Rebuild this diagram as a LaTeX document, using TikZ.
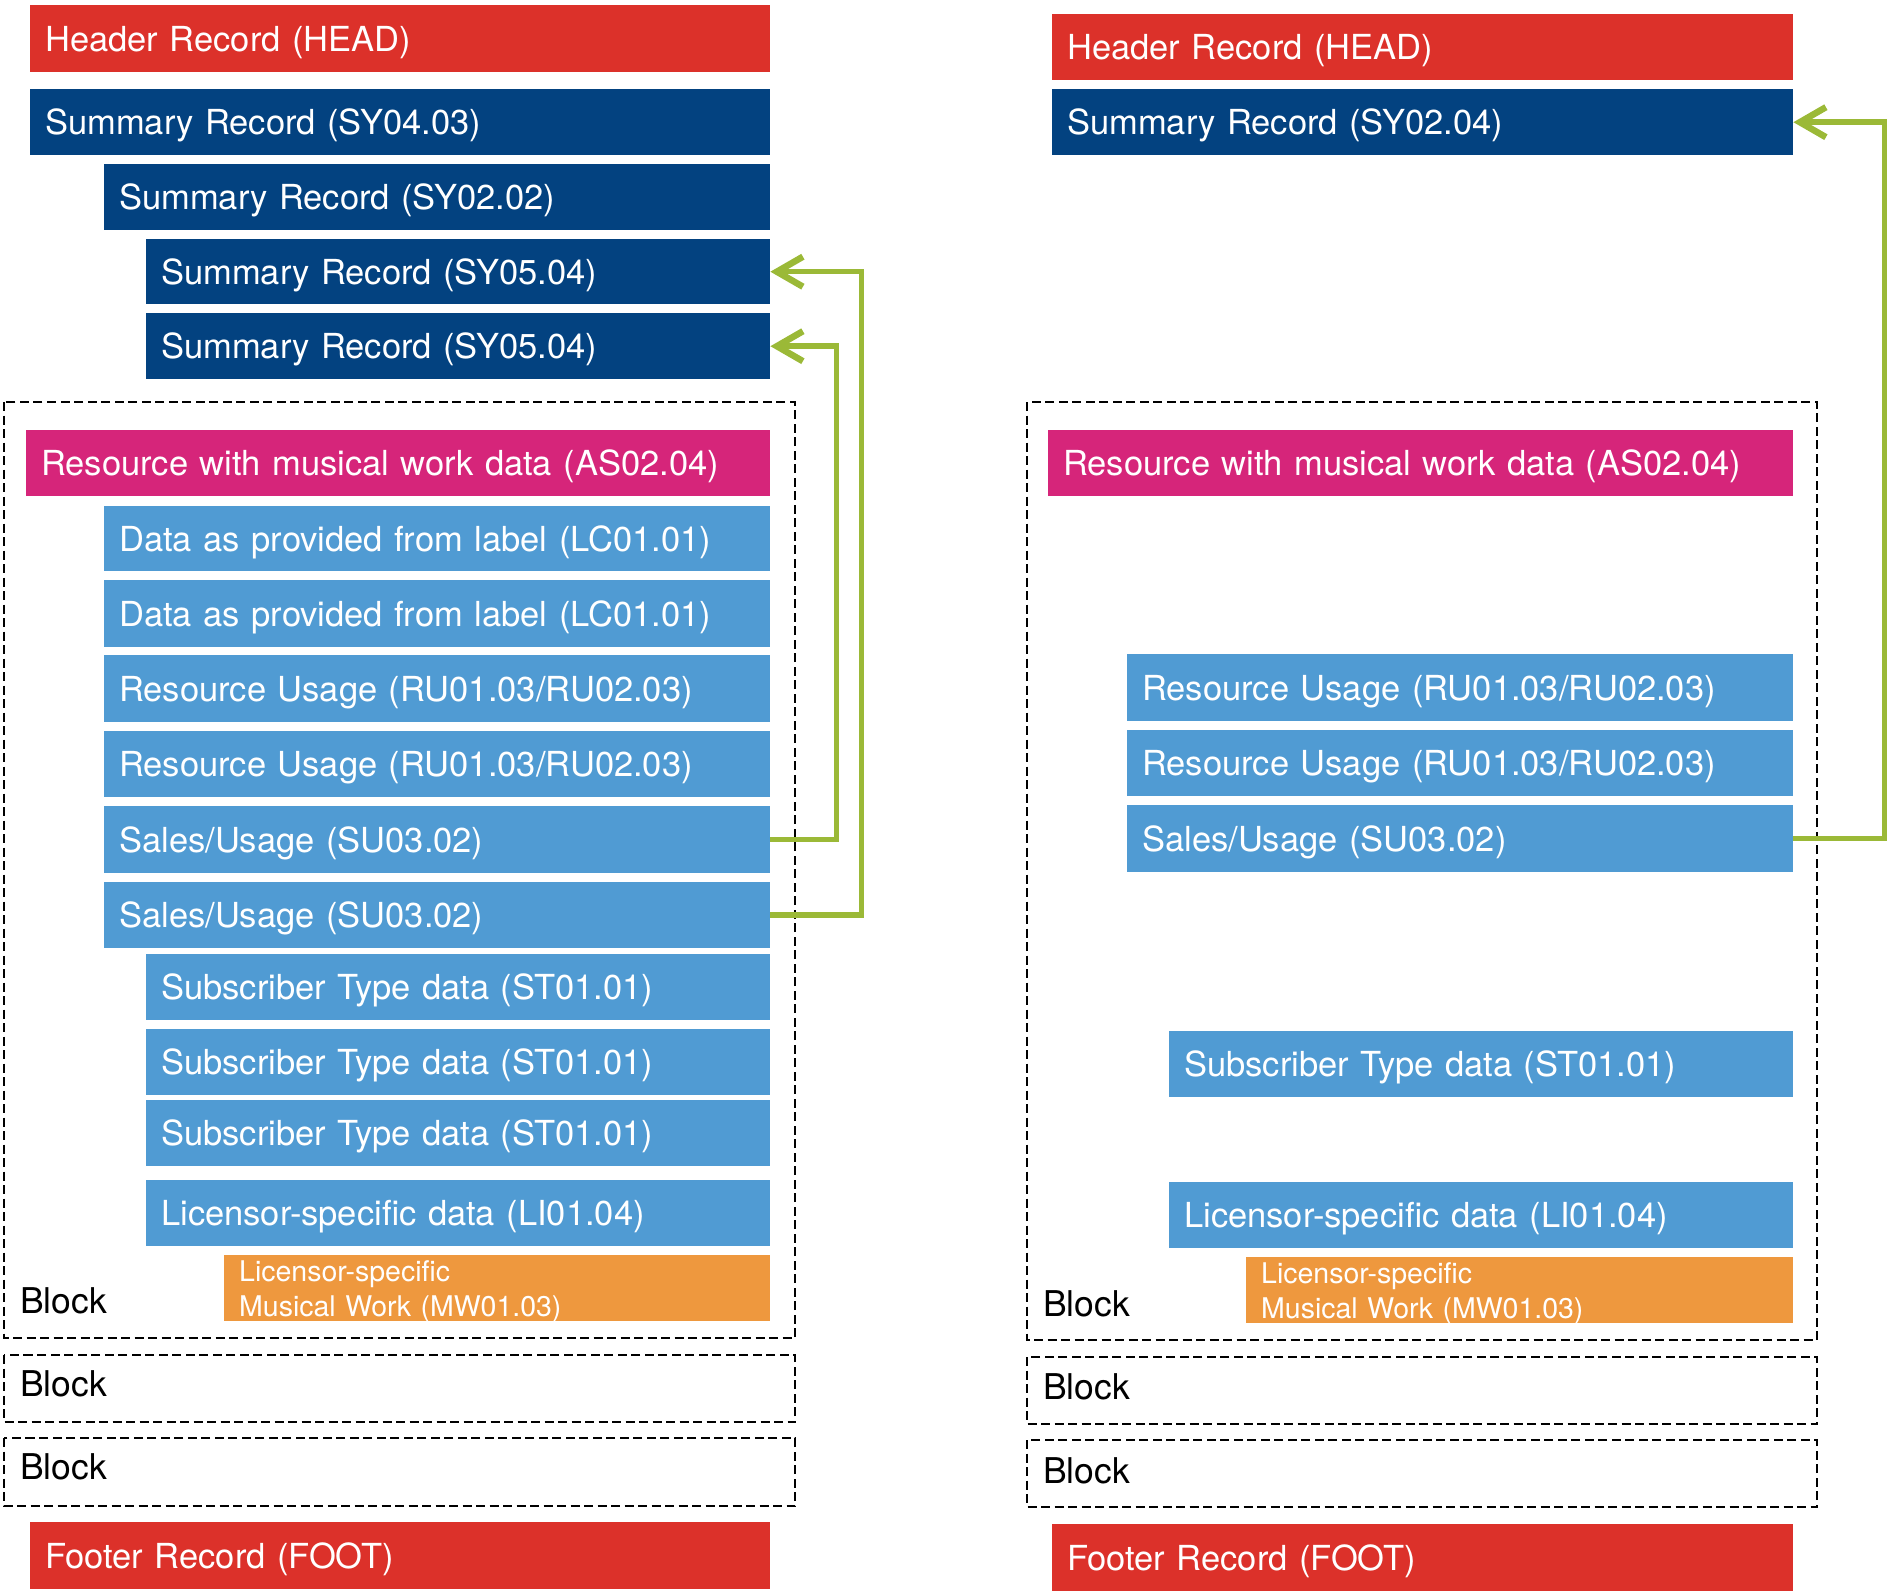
\documentclass[tikz,border=0pt]{standalone}
\usepackage{fontspec}
\setmainfont{TeX Gyre Heros}
\usetikzlibrary{arrows.meta}
\definecolor{hdrred}{RGB}{220,49,42}
\definecolor{navy}{RGB}{3,66,128}
\definecolor{magen}{RGB}{214,37,122}
\definecolor{ltblue}{RGB}{80,155,211}
\definecolor{orng}{RGB}{238,152,62}
\definecolor{grn}{RGB}{155,185,55}
\newcommand\recfont{\fontsize{34.5}{41}\selectfont}
\newcommand\mwfont{\fontsize{28.5}{35}\selectfont}
\tikzset{
  recstyle/.style={anchor=north west, rectangle, inner xsep=15pt, inner ysep=0pt,
    text height=25pt, text depth=0pt, font=\recfont, text=white, align=left},
  mwstyle/.style={anchor=north west, rectangle, inner xsep=15pt, inner ysep=0pt,
    text height=20.5pt, text depth=33pt, font=\mwfont, text=white, align=left, fill=orng},
  blockline/.style={draw=black, line width=2.6pt, dash pattern=on 9pt off 4.5pt},
  blocklabel/.style={anchor=base west, font=\fontsize{35.5}{41}\selectfont, text=black, inner sep=0pt},
  conn/.style={draw=grn, line width=5.5pt, -{Straight Barb[length=26pt, width=30pt, line width=6.5pt]}}
}
% name, x1, y1, x2, y2, fill, text
\newcommand\recbox[7]{%
  \pgfmathsetmacro\rcw{#4-#2-30}%
  \pgfmathsetmacro\rch{#5-#3}%
  \node[recstyle, fill=#6, text width=\rcw pt, minimum height=\rch pt] (#1) at (#2,#3) {#7};%
}
\newcommand\mwbox[5]{%
  \pgfmathsetmacro\rcw{#4-#2-30}%
  \pgfmathsetmacro\rch{#5-#3}%
  \node[mwstyle, text width=\rcw pt, minimum height=\rch pt] (#1) at (#2,#3) {Licensor-specific\\Musical Work (MW01.03)};%
}
\begin{document}
\begin{tikzpicture}[x=1pt, y=-1pt]
\useasboundingbox (0,0) rectangle (1891,1591);

% ---------- left column ----------
\draw[blockline] (4,402) rectangle (795,1338);
\draw[blockline] (4,1355) rectangle (795,1422);
\draw[blockline] (4,1438) rectangle (795,1506);

\recbox{headL}{30}{5}{770}{72}{hdrred}{Header Record (HEAD)}
\recbox{syA}{30}{89}{770}{155}{navy}{Summary Record (SY04.03)}
\recbox{syB}{104}{164}{770}{230}{navy}{Summary Record (SY02.02)}
\recbox{syC}{146}{239}{770}{304}{navy}{Summary Record (SY05.04)}
\recbox{syD}{146}{313}{770}{379}{navy}{Summary Record (SY05.04)}
\recbox{asL}{26}{430}{770}{496}{magen}{Resource with musical work data (AS02.04)}
\recbox{lcA}{104}{506}{770}{571}{ltblue}{Data as provided from label (LC01.01)}
\recbox{lcB}{104}{580}{770}{647}{ltblue}{Data as provided from label (LC01.01)}
\recbox{ruAL}{104}{655}{770}{722}{ltblue}{Resource Usage (RU01.03/RU02.03)}
\recbox{ruBL}{104}{731}{770}{797}{ltblue}{Resource Usage (RU01.03/RU02.03)}
\recbox{suAL}{104}{806}{770}{873}{ltblue}{Sales/Usage (SU03.02)}
\recbox{suBL}{104}{882}{770}{948}{ltblue}{Sales/Usage (SU03.02)}
\recbox{stAL}{146}{954}{770}{1020}{ltblue}{Subscriber Type data (ST01.01)}
\recbox{stBL}{146}{1029}{770}{1095}{ltblue}{Subscriber Type data (ST01.01)}
\recbox{stCL}{146}{1100}{770}{1166}{ltblue}{Subscriber Type data (ST01.01)}
\recbox{liL}{146}{1180}{770}{1246}{ltblue}{Licensor-specific data (LI01.04)}
\mwbox{mwL}{224}{1255}{770}{1321}
\recbox{footL}{30}{1522}{770}{1589}{hdrred}{Footer Record (FOOT)}

\node[blocklabel] (blkAL) at (20,1313) {Block};
\node[blocklabel] (blkBL) at (20,1396) {Block};
\node[blocklabel] (blkCL) at (20,1479) {Block};

\draw[conn] (suAL.east) -- ++(66,0) |- (syD.east);
\draw[conn] (suBL.east) -- ++(91,0) |- (syC.east);

% ---------- right column ----------
\draw[blockline] (1027,402) rectangle (1817,1340);
\draw[blockline] (1027,1357) rectangle (1817,1424);
\draw[blockline] (1027,1440) rectangle (1817,1507);

\recbox{headR}{1052}{14}{1793}{80}{hdrred}{Header Record (HEAD)}
\recbox{syR}{1052}{89}{1793}{155}{navy}{Summary Record (SY02.04)}
\recbox{asR}{1048}{430}{1793}{496}{magen}{Resource with musical work data (AS02.04)}
\recbox{ruAR}{1127}{654}{1793}{721}{ltblue}{Resource Usage (RU01.03/RU02.03)}
\recbox{ruBR}{1127}{730}{1793}{796}{ltblue}{Resource Usage (RU01.03/RU02.03)}
\recbox{suR}{1127}{805}{1793}{872}{ltblue}{Sales/Usage (SU03.02)}
\recbox{stR}{1169}{1031}{1793}{1097}{ltblue}{Subscriber Type data (ST01.01)}
\recbox{liR}{1169}{1182}{1793}{1248}{ltblue}{Licensor-specific data (LI01.04)}
\mwbox{mwR}{1246}{1257}{1793}{1323}
\recbox{footR}{1052}{1524}{1793}{1591}{hdrred}{Footer Record (FOOT)}

\node[blocklabel] (blkAR) at (1043,1316) {Block};
\node[blocklabel] (blkBR) at (1043,1399) {Block};
\node[blocklabel] (blkCR) at (1043,1483) {Block};

\draw[conn] (suR.east) -- ++(91,0) |- (syR.east);
\end{tikzpicture}
\end{document}
